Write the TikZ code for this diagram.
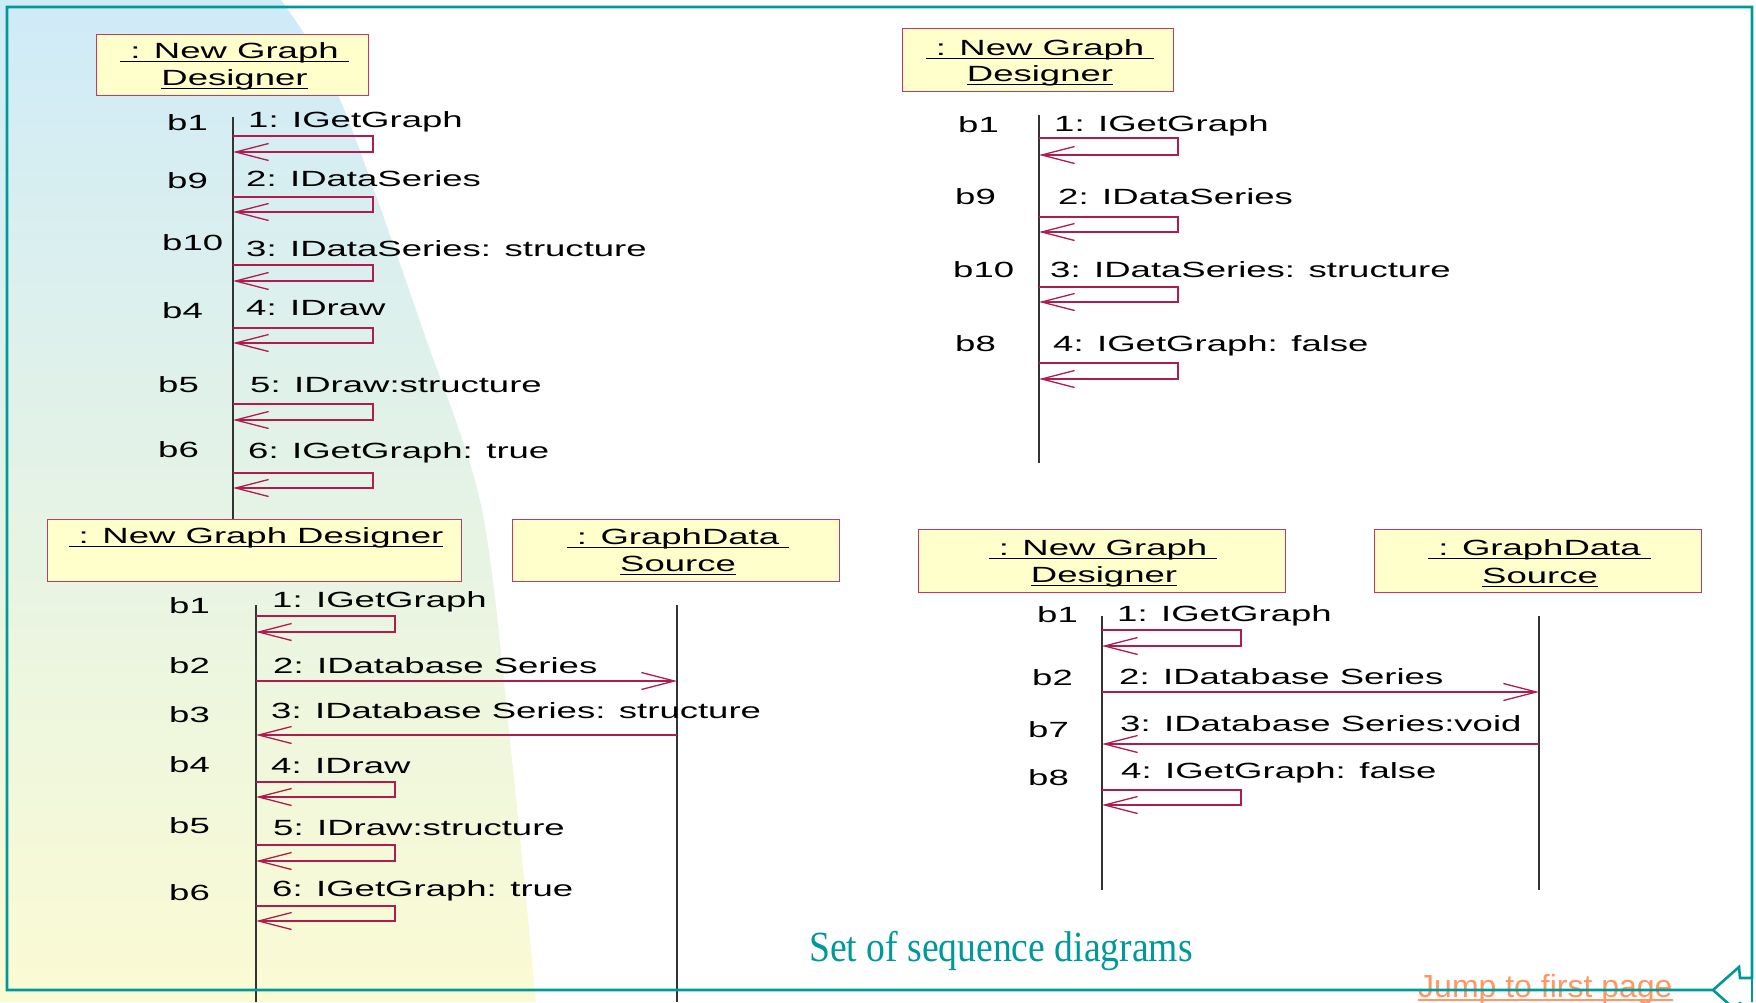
\documentclass[tikz,border=0pt]{standalone}
\usepackage{fontspec}
\setmainfont{Liberation Sans}
\newfontfamily\umlfont[FakeStretch=1.66]{Liberation Sans}
\newfontfamily\titlefont[FakeStretch=0.875]{Liberation Serif}
\usetikzlibrary{arrows.meta}

\definecolor{frameteal}{RGB}{0,153,153}
\definecolor{boxfill}{RGB}{255,255,204}
\definecolor{boxline}{RGB}{196,58,100}
\definecolor{msgred}{RGB}{176,28,78}
\definecolor{jumporange}{RGB}{255,150,100}
\definecolor{skytop}{RGB}{207,235,248}
\definecolor{sandbottom}{RGB}{251,251,211}

% underlined object name, the rule runs under the whole box including spaces
\newsavebox\ulsave
\newcommand\ulname[1]{\sbox\ulsave{#1}\rlap{\rule[-4.2pt]{\wd\ulsave}{1.3pt}}\usebox\ulsave}

% self call: from lifeline out to x=#4, down from y=#2 to y=#3 and back
\newcommand\selfmsg[4]{%
  \coordinate (sT) at (#4,#2);
  \coordinate (sB) at (#4,#3);
  \draw[msgline] (#1 |- sT) -- (sT) -- (sB) -- (#1 |- sB);}

\begin{document}
\begin{tikzpicture}[x=1pt,y=-1pt,
  objbox/.style={draw=boxline, fill=boxfill, line width=1.4pt, inner sep=0pt, anchor=north west},
  umltxt/.style={inner sep=0pt, anchor=base west, font=\umlfont\fontsize{22}{26}\selectfont},
  boxtxt/.style={inner sep=0pt, anchor=base, font=\umlfont\fontsize{22}{26}\selectfont},
  lifeline/.style={line width=1.4pt, draw=black!80},
  msgline/.style={draw=msgred, line width=1.2pt, -{Straight Barb[length=33pt,width=17pt,line width=1.3pt]}},
]
\useasboundingbox (0,0) rectangle (1756,1002);
\begin{scope}
\clip (0,0) rectangle (1756,1002);
\fill[white] (0,0) rectangle (1756,1002);
% slide backdrop
\shade[top color=skytop, bottom color=sandbottom]
  (0,0) -- plot[smooth] coordinates {(281,0) (339,97) (424,333) (482,510) (512,760) (536,1002)}
  -- (0,1002) -- cycle;

% ---------------- diagram: success without data source ----------------
\coordinate (LA) at (233,0);
\draw[lifeline] (233,117) -- (233,519);
\node[objbox, minimum width=272pt, minimum height=61pt] (boxA) at (96,34) {};
\node[boxtxt] (boxAt1) at (234.5,58) {\ulname{\ : New Graph\ }};
\node[boxtxt] (boxAt2) at (234.5,85) {\ulname{Designer}};

\node[umltxt] (a1b) at (167,130) {b1};
\node[umltxt] (a1m) at (248,127) {1: IGetGraph};
\selfmsg{LA}{136}{152}{373}
\node[umltxt] (a2b) at (167,188) {b9};
\node[umltxt] (a2m) at (246,186) {2: IDataSeries};
\selfmsg{LA}{197}{212}{373}
\node[umltxt] (a3b) at (162,250) {b10};
\node[umltxt] (a3m) at (246,256) {3: IDataSeries: structure};
\selfmsg{LA}{265}{281}{373}
\node[umltxt] (a4b) at (162,318) {b4};
\node[umltxt] (a4m) at (246,315) {4: IDraw};
\selfmsg{LA}{328}{343}{373}
\node[umltxt] (a5b) at (158,392) {b5};
\node[umltxt] (a5m) at (250,392) {5: IDraw:structure};
\selfmsg{LA}{404}{420}{373}
\node[umltxt] (a6b) at (158,457) {b6};
\node[umltxt] (a6m) at (248,458) {6: IGetGraph: true};
\selfmsg{LA}{473}{488}{373}

% ---------------- diagram: failure without data source ----------------
\coordinate (LB) at (1039,0);
\draw[lifeline] (1039,115) -- (1039,463);
\node[objbox, minimum width=271pt, minimum height=63pt] (boxB) at (902,28) {};
\node[boxtxt] (boxBt1) at (1040,55) {\ulname{\ : New Graph\ }};
\node[boxtxt] (boxBt2) at (1040,81) {\ulname{Designer}};

\node[umltxt] (b1b) at (958,132) {b1};
\node[umltxt] (b1m) at (1054,131) {1: IGetGraph};
\selfmsg{LB}{138}{155}{1178}
\node[umltxt] (b2b) at (955,204) {b9};
\node[umltxt] (b2m) at (1058,204) {2: IDataSeries};
\selfmsg{LB}{217}{232}{1178}
\node[umltxt] (b3b) at (953,277) {b10};
\node[umltxt] (b3m) at (1050,277) {3: IDataSeries: structure};
\selfmsg{LB}{287}{302}{1178}
\node[umltxt] (b4b) at (955,351) {b8};
\node[umltxt] (b4m) at (1053,351) {4: IGetGraph: false};
\selfmsg{LB}{363}{379}{1178}

% ---------------- diagram: success with data source ----------------
\coordinate (LC1) at (256,0);
\coordinate (LC2) at (677,0);
\draw[lifeline] (256,605) -- (256,1002);
\draw[lifeline] (677,605) -- (677,1002);
\node[objbox, minimum width=414pt, minimum height=62pt] (boxC1) at (47,519) {};
\node[boxtxt] (boxC1t) at (256,543) {\ulname{\ : New Graph Designer}};
\node[objbox, minimum width=327pt, minimum height=62pt] (boxC2) at (512,519) {};
\node[boxtxt] (boxC2t1) at (678,544) {\ulname{\ : GraphData\ }};
\node[boxtxt] (boxC2t2) at (678,571) {\ulname{Source}};

\node[umltxt] (c1b) at (169,613) {b1};
\node[umltxt] (c1m) at (272,607) {1: IGetGraph};
\selfmsg{LC1}{616}{632}{395}
\node[umltxt] (c2b) at (169,673) {b2};
\node[umltxt] (c2m) at (273,673) {2: IDatabase Series};
\coordinate (c2y) at (0,681);
\draw[msgline] (LC1 |- c2y) -- (LC2 |- c2y);
\node[umltxt] (c3b) at (169,722) {b3};
\node[umltxt] (c3m) at (271,718) {3: IDatabase Series: structure};
\coordinate (c3y) at (0,735);
\draw[msgline] (LC2 |- c3y) -- (LC1 |- c3y);
\node[umltxt] (c4b) at (169,772) {b4};
\node[umltxt] (c4m) at (271,773) {4: IDraw};
\selfmsg{LC1}{782}{797}{395}
\node[umltxt] (c5b) at (169,833) {b5};
\node[umltxt] (c5m) at (273,835) {5: IDraw:structure};
\selfmsg{LC1}{845}{861}{395}
\node[umltxt] (c6b) at (169,900) {b6};
\node[umltxt] (c6m) at (272,896) {6: IGetGraph: true};
\selfmsg{LC1}{906}{921}{395}

% ---------------- diagram: failure with data source ----------------
\coordinate (LD1) at (1102,0);
\coordinate (LD2) at (1539,0);
\draw[lifeline] (1102,616) -- (1102,890);
\draw[lifeline] (1539,616) -- (1539,890);
\node[objbox, minimum width=367pt, minimum height=63pt] (boxD1) at (918,529) {};
\node[boxtxt] (boxD1t1) at (1103,555) {\ulname{\ : New Graph\ }};
\node[boxtxt] (boxD1t2) at (1104,582) {\ulname{Designer}};
\node[objbox, minimum width=327pt, minimum height=63pt] (boxD2) at (1374,529) {};
\node[boxtxt] (boxD2t1) at (1539.5,555) {\ulname{\ : GraphData\ }};
\node[boxtxt] (boxD2t2) at (1540,583) {\ulname{Source}};

\node[umltxt] (d1b) at (1037,622) {b1};
\node[umltxt] (d1m) at (1117,621) {1: IGetGraph};
\selfmsg{LD1}{630}{646}{1241}
\node[umltxt] (d2b) at (1032,685) {b2};
\node[umltxt] (d2m) at (1119,684) {2: IDatabase Series};
\coordinate (d2y) at (0,692);
\draw[msgline] (LD1 |- d2y) -- (LD2 |- d2y);
\node[umltxt] (d3b) at (1028,737) {b7};
\node[umltxt] (d3m) at (1120,731) {3: IDatabase Series:void};
\coordinate (d3y) at (0,744);
\draw[msgline] (LD2 |- d3y) -- (LD1 |- d3y);
\node[umltxt] (d4b) at (1028,785) {b8};
\node[umltxt] (d4m) at (1121,778) {4: IGetGraph: false};
\selfmsg{LD1}{790}{805}{1241}

% ---------------- slide caption and navigation ----------------
\node[inner sep=0pt, anchor=base west, text=frameteal, font=\titlefont\fontsize{43}{50}\selectfont]
  (caption) at (809,961) {Set of sequence diagrams};
\node[inner sep=0pt, anchor=base west, text=jumporange, font=\fontsize{32}{38}\selectfont]
  (jump) at (1418,997) {Jump to first page};
\draw[jumporange, line width=2pt] ([yshift=-3pt]jump.base west) -- ([yshift=-3pt]jump.base east);

% slide frame ending in the back-arrow button
\draw[frameteal, line width=2.6pt, line join=miter]
  (1713,990) -- (7,990) -- (7,7) -- (1752,7) -- (1752,978) -- (1740,978) -- (1739,967)
  -- (1713,990) -- (1739,1013) -- (1740,1002);
\draw[frameteal, line width=2.6pt] (1752,978) -- (1752,1002);
\end{scope}
\end{tikzpicture}
\end{document}
